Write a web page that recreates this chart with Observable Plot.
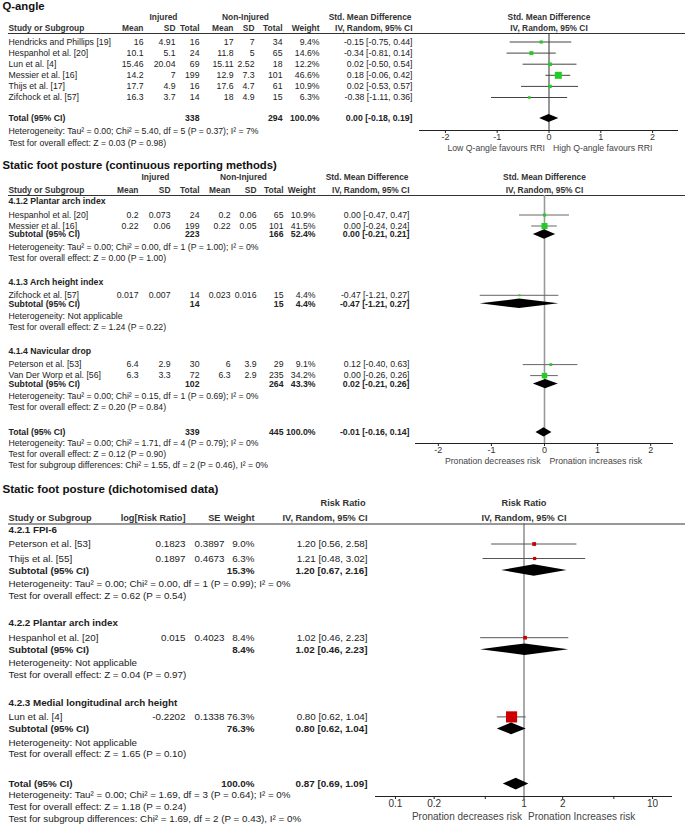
<!DOCTYPE html>
<html><head><meta charset="utf-8">
<script src="https://cdn.jsdelivr.net/npm/d3@7"></script>
<script src="https://cdn.jsdelivr.net/npm/@observablehq/plot@0.6"></script>
<style>
html,body{margin:0;padding:0;background:#fff;}
body{width:685px;height:829px;overflow:hidden;}
#chart svg{display:block;}
</style></head>
<body><div id="chart"></div>
<script>
// ================= DATA =================
// ---- Panel 1: Q-angle ----
const qTitle = "Q-angle";
const qStudy = ["Hendricks and Phillips [19]","Hespanhol et al. [20]","Lun et al. [4]","Messier et al. [16]","Thijs et al. [17]","Zifchock et al. [57]"];
const qInjMean = [16, 10.1, 15.46, 14.2, 17.7, 16.3];
const qInjSD = [4.91, 5.1, 20.04, 7, 4.9, 3.7];
const qInjN = [16, 24, 69, 199, 16, 14];
const qNonMean = [17, 11.8, 15.11, 12.9, 17.6, 18];
const qNonSD = [7, 5, 2.52, 7.3, 4.7, 4.9];
const qNonN = [34, 65, 18, 101, 61, 15];
const qWeight = [9.4, 14.6, 12.2, 46.6, 10.9, 6.3];
const qEst = [-0.15, -0.34, 0.02, 0.18, 0.02, -0.38];
const qLo = [-0.75, -0.81, -0.50, -0.06, -0.53, -1.11];
const qHi = [0.44, 0.14, 0.54, 0.42, 0.57, 0.36];
const qTotal = [338, 294, 100.0, 0.00, -0.18, 0.19]; // injN, nonN, weight, est, lo, hi
const qTotalStats = ["Heterogeneity: Tau² = 0.00; Chi² = 5.40, df = 5 (P = 0.37); I² = 7%", "Test for overall effect: Z = 0.03 (P = 0.98)"];
const qTicks = [-2, -1, 0, 1, 2];
const qAxisLabels = ["Low Q-angle favours RRI", "High Q-angle favours RRI"];

// ---- Panel 2: Static foot posture (continuous) ----
const pTitle = "Static foot posture (continuous reporting methods)";
const pGroups = ["4.1.2 Plantar arch index", "4.1.3 Arch height index", "4.1.4 Navicular drop"];
const pStudy = [["Hespanhol et al. [20]", "Messier et al. [16]"], ["Zifchock et al. [57]"], ["Peterson et al. [53]", "Van Der Worp et al. [56]"]];
const pInjMean = [[0.2, 0.22], [0.017], [6.4, 6.3]];
const pInjSD = [[0.073, 0.06], [0.007], [2.9, 3.3]];
const pInjN = [[24, 199], [14], [30, 72]];
const pNonMean = [[0.2, 0.22], [0.023], [6, 6.3]];
const pNonSD = [[0.06, 0.05], [0.016], [3.9, 2.9]];
const pNonN = [[65, 101], [15], [29, 235]];
const pWeight = [[10.9, 41.5], [4.4], [9.1, 34.2]];
const pEst = [[0.00, 0.00], [-0.47], [0.12, 0.00]];
const pLo = [[-0.47, -0.24], [-1.21], [-0.40, -0.26]];
const pHi = [[0.47, 0.24], [0.27], [0.63, 0.26]];
const pSubInjN = [223, 14, 102];
const pSubNonN = [166, 15, 264];
const pSubWeight = [52.4, 4.4, 43.3];
const pSubEst = [0.00, -0.47, 0.02];
const pSubLo = [-0.21, -1.21, -0.21];
const pSubHi = [0.21, 0.27, 0.26];
const pSubStats = [
  ["Heterogeneity: Tau² = 0.00; Chi² = 0.00, df = 1 (P = 1.00); I² = 0%", "Test for overall effect: Z = 0.00 (P = 1.00)"],
  ["Heterogeneity: Not applicable", "Test for overall effect: Z = 1.24 (P = 0.22)"],
  ["Heterogeneity: Tau² = 0.00; Chi² = 0.15, df = 1 (P = 0.69); I² = 0%", "Test for overall effect: Z = 0.20 (P = 0.84)"]
];
const pTotal = [339, 445, 100.0, -0.01, -0.16, 0.14];
const pTotalStats = ["Heterogeneity: Tau² = 0.00; Chi² = 1.71, df = 4 (P = 0.79); I² = 0%", "Test for overall effect: Z = 0.12 (P = 0.90)", "Test for subgroup differences: Chi² = 1.55, df = 2 (P = 0.46), I² = 0%"];
const pTicks = [-2, -1, 0, 1, 2];
const pAxisLabels = ["Pronation decreases risk", "Pronation increases risk"];

// ---- Panel 3: Static foot posture (dichotomised) ----
const rTitle = "Static foot posture (dichotomised data)";
const rGroups = ["4.2.1 FPI-6", "4.2.2 Plantar arch index", "4.2.3 Medial longitudinal arch height"];
const rStudy = [["Peterson et al. [53]", "Thijs et al. [55]"], ["Hespanhol et al. [20]"], ["Lun et al. [4]"]];
const rLogRR = [[0.1823, 0.1897], [0.015], [-0.2202]];
const rSE = [[0.3897, 0.4673], [0.4023], [0.1338]];
const rWeight = [[9.0, 6.3], [8.4], [76.3]];
const rRR = [[1.20, 1.21], [1.02], [0.80]];
const rLo = [[0.56, 0.48], [0.46], [0.62]];
const rHi = [[2.58, 3.02], [2.23], [1.04]];
const rSubWeight = [15.3, 8.4, 76.3];
const rSubRR = [1.20, 1.02, 0.80];
const rSubLo = [0.67, 0.46, 0.62];
const rSubHi = [2.16, 2.23, 1.04];
const rSubStats = [
  ["Heterogeneity: Tau² = 0.00; Chi² = 0.00, df = 1 (P = 0.99); I² = 0%", "Test for overall effect: Z = 0.62 (P = 0.54)"],
  ["Heterogeneity: Not applicable", "Test for overall effect: Z = 0.04 (P = 0.97)"],
  ["Heterogeneity: Not applicable", "Test for overall effect: Z = 1.65 (P = 0.10)"]
];
const rTotal = [100.0, 0.87, 0.69, 1.09];
const rTotalStats = ["Heterogeneity: Tau² = 0.00; Chi² = 1.69, df = 3 (P = 0.64); I² = 0%", "Test for overall effect: Z = 1.18 (P = 0.24)", "Test for subgroup differences: Chi² = 1.69, df = 2 (P = 0.43), I² = 0%"];
const rTicks = [0.1, 0.2, 0.5, 1, 2, 5, 10];
const rAxisLabels = ["Pronation decreases risk", "Pronation Increases risk"];

// Header labels
const contHead1 = ["Injured", "Non-Injured", "Std. Mean Difference"];
const contHead2 = ["Study or Subgroup", "Mean", "SD", "Total", "Mean", "SD", "Total", "Weight", "IV, Random, 95% CI"];
const contRight = ["Std. Mean Difference", "IV, Random, 95% CI"];
const rrHead1 = ["Risk Ratio"];
const rrHead2 = ["Study or Subgroup", "log[Risk Ratio]", "SE", "Weight", "IV, Random, 95% CI"];
const rrRight = ["Risk Ratio", "IV, Random, 95% CI"];

// ================= HELPERS =================
const FONT = "'Liberation Sans', Arial, Helvetica, sans-serif";
const INK = "#222";
const f2 = v => v.toFixed(2);
const ciText = (e, l, h) => `${f2(e)} [${f2(l)}, ${f2(h)}]`;
const pct = w => w.toFixed(1) + "%";

function layoutRows(rows, start, gaps) {
  let y = start, prev = null;
  for (const r of rows) {
    if (prev) y += gaps[prev + ">" + r.kind];
    r.y = y; prev = r.kind;
  }
  return rows;
}

function tableMarks(rows, cols, fs) {
  const marks = [];
  cols.forEach((c, i) => {
    for (const bold of [false, true]) {
      const data = rows.filter(r => !!r.bold === bold && r.cells[i] != null);
      if (!data.length) continue;
      marks.push(Plot.text(data, {
        y: "y", text: r => r.cells[i], frameAnchor: "left", dx: c.x,
        textAnchor: c.anchor, fontSize: fs, fontWeight: bold ? "bold" : "normal", fill: INK
      }));
    }
  });
  return marks;
}

function headerMarks(items, y, fs) {
  return items.map(it => Plot.text([it.t], {
    y: [y], text: d => d, frameAnchor: "left", dx: it.x, textAnchor: it.anchor,
    fontSize: fs, fontWeight: "bold", fill: "#333"
  }));
}

function panel(o) {
  const studies = o.rows.filter(r => r.kind === "study");
  const diamonds = o.rows.filter(r => r.kind === "sub" || r.kind === "total");
  const dpts = diamonds.flatMap((r, i) => [
    {id: i, x: r.lo, y1: r.y, y2: r.y},
    {id: i, x: r.est, y1: r.y - o.dh, y2: r.y + o.dh},
    {id: i, x: r.hi, y1: r.y, y2: r.y}
  ]);
  const [d0, d1] = o.x.domain;
  return Plot.plot({
    width: 685, height: o.height,
    marginTop: 0, marginLeft: 0, marginRight: 0,
    marginBottom: o.height - (o.axisY - o.top),
    style: {fontFamily: FONT, background: "#fff", color: INK, overflow: "visible"},
    x: {...o.x, label: null},
    y: {domain: [o.top, o.top + o.height], range: [0, o.height], axis: null},
    r: {type: "sqrt", domain: [0, 100], range: [0, o.rmax]},
    marks: [
      Plot.text([o.title], {y: [o.titleY], text: d => d, frameAnchor: "left", dx: 2, textAnchor: "start", fontSize: o.titleFs, fontWeight: "bold", fill: "#111"}),
      ...o.headers,
      Plot.text([o.right[0]], {x: [o.ref], y: [o.head1Y], text: d => d, fontSize: o.hfs, fontWeight: "bold", fill: "#333"}),
      Plot.text([o.right[1]], {x: [o.ref], y: [o.head2Y], text: d => d, fontSize: o.hfs, fontWeight: "bold", fill: "#333"}),
      Plot.ruleY([o.lineY], {insetLeft: 8, stroke: "#333", strokeWidth: 1}),
      ...tableMarks(o.rows, o.cols, o.fs),
      Plot.ruleX([o.ref], {y1: o.lineY, y2: o.axisY, stroke: o.zeroStroke, strokeWidth: o.zeroWidth}),
      Plot.ruleY(studies, {y: "y", x1: "lo", x2: "hi", stroke: o.ciStroke, strokeWidth: 1}),
      Plot.dot(studies, {x: "est", y: "y", r: "w", symbol: "square", fill: o.color, stroke: null}),
      Plot.area(dpts, {x1: "x", y1: "y1", y2: "y2", z: "id", fill: "#000", curve: "linear"}),
      Plot.ruleY([o.axisY], {x1: d0, x2: d1, stroke: "#222", strokeWidth: 1}),
      Plot.axisX({anchor: "bottom", ticks: o.ticks, tickFormat: d => String(d), tickSize: 3, tickPadding: 0, fontSize: o.tickFs, label: null, stroke: "#222", fill: "#333"}),
      Plot.text([o.axisLabels[0]], {x: [o.ref], y: [o.axisY], text: d => d, dy: o.labDy, dx: o.labDx[0], textAnchor: "end", fontSize: o.labFs, fill: "#444"}),
      Plot.text([o.axisLabels[1]], {x: [o.ref], y: [o.axisY], text: d => d, dy: o.labDy, dx: o.labDx[1], textAnchor: "start", fontSize: o.labFs, fill: "#444"})
    ]
  });
}

// ================= PANEL 1 =================
const qCols = [{x: 8, anchor: "start"}, ...[143, 175, 199, 233, 254, 282, 319, 412].map(x => ({x, anchor: "end"}))];
const qRows = [];
qStudy.forEach((s, i) => qRows.push({
  kind: "study", cells: [s, String(qInjMean[i]), String(qInjSD[i]), String(qInjN[i]), String(qNonMean[i]), String(qNonSD[i]), String(qNonN[i]), pct(qWeight[i]), ciText(qEst[i], qLo[i], qHi[i])],
  est: qEst[i], lo: qLo[i], hi: qHi[i], w: qWeight[i]
}));
qRows.push({kind: "total", bold: true, cells: ["Total (95% CI)", null, null, String(qTotal[0]), null, null, String(qTotal[1]), pct(qTotal[2]), ciText(qTotal[3], qTotal[4], qTotal[5])], est: qTotal[3], lo: qTotal[4], hi: qTotal[5]});
qTotalStats.forEach(t => qRows.push({kind: "stat", cells: [t]}));
layoutRows(qRows, 41.5, {"study>study": 11.1, "study>total": 21, "total>stat": 12.5, "stat>stat": 12});

const qHeaders = [
  ...headerMarks([{t: contHead1[0], x: 163, anchor: "middle"}, {t: contHead1[1], x: 245, anchor: "middle"}, {t: contHead1[2], x: 411, anchor: "end"}], 17, 8.4),
  ...headerMarks(contHead2.map((t, i) => ({t, x: qCols[i].x, anchor: qCols[i].anchor})), 28, 8.4)
];

// ================= PANEL 2 =================
const pCols = [{x: 8, anchor: "start"}, ...[138, 170, 199, 230, 256, 283, 315, 409].map(x => ({x, anchor: "end"}))];
const pRows = [];
pGroups.forEach((g, gi) => {
  pRows.push({kind: "group", bold: true, cells: [g]});
  pStudy[gi].forEach((s, i) => pRows.push({
    kind: "study", cells: [s, String(pInjMean[gi][i]), String(pInjSD[gi][i]), String(pInjN[gi][i]), String(pNonMean[gi][i]), String(pNonSD[gi][i]), String(pNonN[gi][i]), pct(pWeight[gi][i]), ciText(pEst[gi][i], pLo[gi][i], pHi[gi][i])],
    est: pEst[gi][i], lo: pLo[gi][i], hi: pHi[gi][i], w: pWeight[gi][i]
  }));
  pRows.push({kind: "sub", bold: true, cells: ["Subtotal (95% CI)", null, null, String(pSubInjN[gi]), null, null, String(pSubNonN[gi]), pct(pSubWeight[gi]), ciText(pSubEst[gi], pSubLo[gi], pSubHi[gi])], est: pSubEst[gi], lo: pSubLo[gi], hi: pSubHi[gi]});
  pSubStats[gi].forEach(t => pRows.push({kind: "stat", cells: [t]}));
});
pRows.push({kind: "total", bold: true, cells: ["Total (95% CI)", null, null, String(pTotal[0]), null, null, String(pTotal[1]), pct(pTotal[2]), ciText(pTotal[3], pTotal[4], pTotal[5])], est: pTotal[3], lo: pTotal[4], hi: pTotal[5]});
pTotalStats.forEach(t => pRows.push({kind: "stat", cells: [t]}));
layoutRows(pRows, 201, {"group>study": 13.5, "study>study": 11, "study>sub": 8.5, "sub>stat": 12.5, "stat>stat": 10.8, "stat>group": 24, "stat>total": 25, "total>stat": 11});

const pHeaders = [
  ...headerMarks([{t: contHead1[0], x: 155, anchor: "middle"}, {t: contHead1[1], x: 243, anchor: "middle"}, {t: contHead1[2], x: 408, anchor: "end"}], 177, 8.4),
  ...headerMarks(contHead2.map((t, i) => ({t, x: pCols[i].x, anchor: pCols[i].anchor})), 189.5, 8.4)
];

// ================= PANEL 3 =================
const rCols = [{x: 8, anchor: "start"}, ...[185, 224, 254, 367].map(x => ({x, anchor: "end"}))];
const rRows = [];
rGroups.forEach((g, gi) => {
  rRows.push({kind: "group", bold: true, cells: [g]});
  rStudy[gi].forEach((s, i) => rRows.push({
    kind: "study", cells: [s, String(rLogRR[gi][i]), String(rSE[gi][i]), pct(rWeight[gi][i]), ciText(rRR[gi][i], rLo[gi][i], rHi[gi][i])],
    est: rRR[gi][i], lo: rLo[gi][i], hi: rHi[gi][i], w: rWeight[gi][i]
  }));
  rRows.push({kind: "sub", bold: true, cells: ["Subtotal (95% CI)", null, null, pct(rSubWeight[gi]), ciText(rSubRR[gi], rSubLo[gi], rSubHi[gi])], est: rSubRR[gi], lo: rSubLo[gi], hi: rSubHi[gi]});
  rSubStats[gi].forEach(t => rRows.push({kind: "stat", cells: [t]}));
});
rRows.push({kind: "total", bold: true, cells: ["Total (95% CI)", null, null, pct(rTotal[0]), ciText(rTotal[1], rTotal[2], rTotal[3])], est: rTotal[1], lo: rTotal[2], hi: rTotal[3]});
rTotalStats.forEach(t => rRows.push({kind: "stat", cells: [t]}));
layoutRows(rRows, 529, {"group>study": 14.5, "study>study": 14.5, "study>sub": 12, "sub>stat": 13.5, "stat>stat": 11.7, "stat>group": 27.5, "stat>total": 30, "total>stat": 11});

const rHeadX = [8, 185, 220, 254, 367];
const rHeaders = [
  ...headerMarks([{t: rrHead1[0], x: 365, anchor: "end"}], 503, 9.2),
  ...headerMarks(rrHead2.map((t, i) => ({t, x: rHeadX[i], anchor: i ? "end" : "start"})), 517.5, 9.2)
];

// ================= RENDER =================
const chart = document.getElementById("chart");
chart.append(panel({
  top: 0, height: 158, title: qTitle, titleY: 6, titleFs: 11.3, headers: qHeaders, right: contRight,
  head1Y: 17, head2Y: 28, lineY: 33, axisY: 130, rows: qRows, cols: qCols, fs: 8.7, hfs: 8.4,
  x: {type: "linear", domain: [-2.5, 2.5], range: [419, 678]}, ref: 0, ticks: qTicks, tickFs: 9,
  axisLabels: qAxisLabels, labDy: 18, labDx: [-4, 4], labFs: 8.7, color: "#22cc22", rmax: 5.8, dh: 4,
  zeroStroke: "#333", zeroWidth: 1, ciStroke: "#444"
}));
chart.append(panel({
  top: 158, height: 326, title: pTitle, titleY: 165, titleFs: 11.3, headers: pHeaders, right: contRight,
  head1Y: 177, head2Y: 189.5, lineY: 195, axisY: 443, rows: pRows, cols: pCols, fs: 8.7, hfs: 8.4,
  x: {type: "linear", domain: [-2.43, 2.43], range: [415, 673]}, ref: 0, ticks: pTicks, tickFs: 9,
  axisLabels: pAxisLabels, labDy: 17.5, labDx: [-4, 5], labFs: 8.7, color: "#22cc22", rmax: 5.3, dh: 4.7,
  zeroStroke: "#999", zeroWidth: 1.6, ciStroke: "#666"
}));
chart.append(panel({
  top: 484, height: 345, title: rTitle, titleY: 489, titleFs: 11.6, headers: rHeaders, right: rrRight,
  head1Y: 503, head2Y: 517.5, lineY: 523.5, axisY: 796, rows: rRows, cols: rCols, fs: 9.8, hfs: 9.2,
  x: {type: "log", domain: [1 / 14.3, 14.3], range: [375, 672]}, ref: 1, ticks: rTicks, tickFs: 10,
  axisLabels: rAxisLabels, labDy: 20, labDx: [-2, 4], labFs: 10, color: "#cc0000", rmax: 7.2, dh: 5.8,
  zeroStroke: "#555", zeroWidth: 1, ciStroke: "#555"
}));
</script>
</body></html>
